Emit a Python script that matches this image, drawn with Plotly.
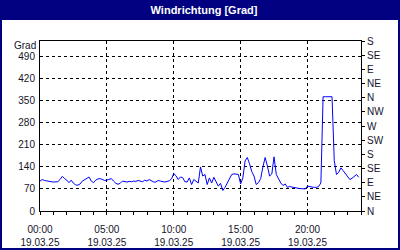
import pandas as pd
import plotly.graph_objects as go

# ---- data -------------------------------------------------------------
start_time = "2025-03-19 00:00"
step = "10min"
wind_deg = [
    95, 100, 97, 95, 93, 93,        # 00
    92, 92, 93, 100, 110, 103,      # 01
    98, 90, 98, 88, 83, 82,         # 02
    86, 95, 100, 105, 108, 95,      # 03
    90, 98, 102, 103, 99, 97,       # 04
    98, 100, 103, 95, 88, 85,       # 05
    88, 95, 93, 92, 94, 93,         # 06
    95, 94, 97, 96, 93, 98,         # 07
    95, 100, 96, 92, 92, 97,        # 08
    95, 94, 92, 94, 96, 102,        # 09
    119, 112, 100, 108, 106, 93,    # 10
    92, 105, 84, 100, 95, 89,       # 11
    140, 111, 116, 84, 105, 89,     # 12
    107, 92, 79, 88, 65, 75,        # 13
    89, 105, 116, 118, 118, 116,    # 14
    86, 105, 159, 170, 150, 125,    # 15
    111, 84, 90, 103, 140, 170,     # 16
    143, 111, 118, 172, 116, 100,   # 17
    89, 81, 86, 75, 78, 76,         # 18
    74, 73, 72, 71, 71, 70,         # 19
    79, 77, 75, 75, 75, 78,         # 20
    89, 363, 363, 363, 363, 363,    # 21
    160, 116, 123, 137, 128, 118,   # 22
    110, 100, 104, 111, 116, 107,   # 23
]
times = pd.date_range(start_time, periods=len(wind_deg), freq=step)

left_ticks = [0, 70, 140, 210, 280, 350, 420, 490]
compass_vals = [0, 45, 90, 135, 180, 225, 270, 315, 360, 405, 450, 495, 540]
compass_text = ["N", "NE", "E", "SE", "S", "SW", "W", "NW", "N", "NE", "E", "SE", "S"]
title_text = "Windrichtung [Grad]"
unit_text = "Grad"

# ---- figure -----------------------------------------------------------
NAVY = "#000080"
TXT = "#14142a"
FONT = "Liberation Sans"

fig = go.Figure()
fig.add_trace(go.Scatter(x=times, y=wind_deg, mode="lines",
                         line=dict(color="#0000ff", width=1), hoverinfo="skip"))
# invisible trace for right axis
fig.add_trace(go.Scatter(x=[times[0]], y=[0], yaxis="y2", mode="markers",
                         marker=dict(opacity=0), hoverinfo="skip"))

W, H = 400, 250
L, R, T, B = 40, 39, 41, 39
pw, ph = W - L - R, H - T - B


def px(xp):
    return (xp - L) / pw


def py(yp):
    return (H - B - yp) / ph


fig.update_layout(
    width=W, height=H,
    margin=dict(l=L, r=R, t=T, b=B, pad=0, autoexpand=False),
    paper_bgcolor="white", plot_bgcolor="white",
    showlegend=False,
    font=dict(family=FONT, size=10, color=TXT),
    title=dict(text="<b>" + title_text + "</b>", x=0.51, xanchor="center",
               y=1 - 10.5 / H, yanchor="middle",
               font=dict(family=FONT, size=11, color="white")),
    xaxis=dict(
        type="date", automargin=False,
        range=[pd.Timestamp(start_time), pd.Timestamp(start_time) + pd.Timedelta(hours=24)],
        tick0=pd.Timestamp(start_time), dtick=5 * 3600 * 1000,
        tickformat="%H:%M<br>%d.%m.%y",
        ticks="outside", ticklen=3, tickcolor="black",
        ticklabelstandoff=6,
        showgrid=True, gridcolor="black", griddash="3px,3px", gridwidth=1,
        minor=dict(dtick=3600 * 1000, ticks="outside", ticklen=3, tickcolor="black", showgrid=False),
        showline=True, linecolor="black", linewidth=1, mirror=True,
        zeroline=False, fixedrange=True,
        tickfont=dict(size=10, color=TXT),
    ),
    yaxis=dict(
        range=[0, 540], tickvals=left_ticks, automargin=False,
        ticks="", showgrid=True, gridcolor="black", griddash="3px,3px", gridwidth=1,
        showline=True, linecolor="black", linewidth=1, mirror=True,
        zeroline=False, fixedrange=True, ticklabelstandoff=2,
        tickfont=dict(size=10, color=TXT),
    ),
    yaxis2=dict(
        range=[0, 540], overlaying="y", side="right", automargin=False,
        tickvals=compass_vals, ticktext=compass_text,
        ticks="outside", ticklen=3, tickcolor="black",
        showgrid=False, zeroline=False, showline=False, fixedrange=True,
        tickfont=dict(size=10, color=TXT),
    ),
    shapes=[
        dict(type="rect", xref="paper", yref="paper",
             x0=px(0), x1=px(W), y0=py(20), y1=py(0),
             fillcolor=NAVY, line=dict(width=0), layer="below"),
        dict(type="rect", xref="paper", yref="paper",
             x0=px(1), x1=px(W - 1), y0=py(H - 1), y1=py(1),
             fillcolor="rgba(0,0,0,0)", line=dict(color=NAVY, width=2)),
    ],
    annotations=[
        dict(text=unit_text, xref="paper", yref="paper", x=px(38), y=py(45),
             xanchor="right", yanchor="middle", showarrow=False,
             font=dict(size=10, color=TXT)),
    ],
)

fig.write_html("out.html", config={"displayModeBar": False})
